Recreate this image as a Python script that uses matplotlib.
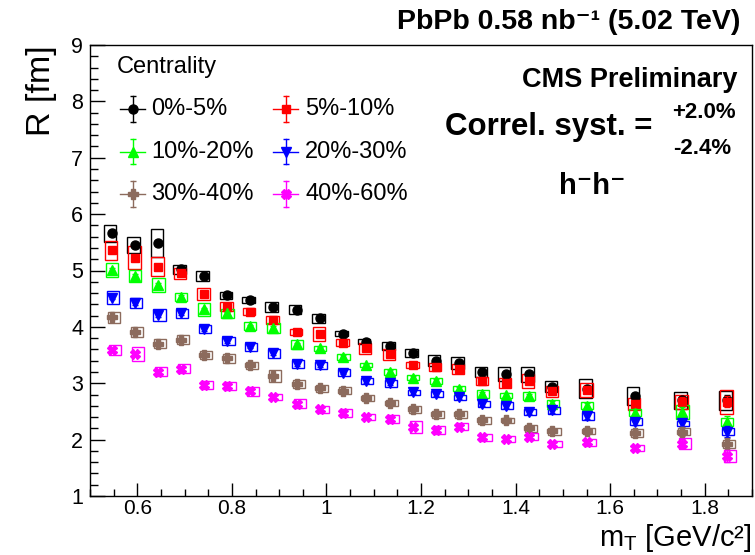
import numpy as np
import matplotlib
matplotlib.use("Agg")
import matplotlib.pyplot as plt
from matplotlib.patches import Rectangle

plt.rcParams['font.family'] = ['Liberation Sans', 'DejaVu Sans']
plt.rcParams['mathtext.fontset'] = 'custom'
plt.rcParams['mathtext.rm'] = 'Liberation Sans'
plt.rcParams['mathtext.it'] = 'Liberation Sans:italic'
plt.rcParams['mathtext.bf'] = 'Liberation Sans:bold'

# ---------------- data ----------------
mt = [0.546, 0.595, 0.644, 0.692, 0.741, 0.790, 0.838, 0.887, 0.937, 0.986,
      1.035, 1.083, 1.134, 1.183, 1.231, 1.280, 1.330, 1.379, 1.428, 1.478,
      1.551, 1.652, 1.752, 1.847]

R_0_5 = [5.66, 5.45, 5.49, 5.02, 4.90, 4.56, 4.48, 4.36, 4.30, 4.15, 3.88, 3.74,
         3.66, 3.53, 3.40, 3.36, 3.20, 3.16, 3.16, 2.94, 2.90, 2.77, 2.70, 2.70]
R_5_10 = [5.36, 5.23, 5.07, 4.95, 4.58, 4.36, 4.27, 4.12, 3.91, 3.87, 3.72, 3.62,
          3.51, 3.33, 3.29, 3.26, 3.04, 3.01, 3.04, 2.86, 2.88, 2.63, 2.67, 2.67]
R_10_20 = [5.01, 4.90, 4.74, 4.53, 4.31, 4.24, 4.01, 3.98, 3.69, 3.62, 3.47, 3.32,
           3.20, 3.10, 3.04, 2.90, 2.81, 2.79, 2.77, 2.64, 2.60, 2.48, 2.49, 2.32]
R_20_30 = [4.52, 4.42, 4.21, 4.24, 3.96, 3.75, 3.65, 3.53, 3.34, 3.32, 3.19, 3.04,
           3.00, 2.84, 2.81, 2.75, 2.63, 2.60, 2.49, 2.52, 2.42, 2.32, 2.29, 2.14]
R_30_40 = [4.17, 3.91, 3.70, 3.77, 3.50, 3.44, 3.32, 3.13, 2.99, 2.91, 2.87, 2.74,
           2.65, 2.54, 2.45, 2.45, 2.34, 2.34, 2.20, 2.15, 2.15, 2.11, 2.14, 1.92]
R_40_60 = [3.59, 3.52, 3.20, 3.26, 2.97, 2.95, 2.86, 2.76, 2.64, 2.54, 2.47, 2.40,
           2.37, 2.22, 2.17, 2.23, 2.04, 2.01, 2.05, 1.92, 1.95, 1.85, 1.93, 1.71]

# systematic (box half-heights)
syst_0_5 = [0.15, 0.14, 0.25, 0.08, 0.09, 0.06, 0.05, 0.09, 0.08, 0.08, 0.05, 0.05,
            0.065, 0.07, 0.10, 0.11, 0.09, 0.12, 0.13, 0.10, 0.17, 0.16, 0.15, 0.17]
syst_5_10 = [0.17, 0.20, 0.17, 0.095, 0.11, 0.075, 0.06, 0.075, 0.06, 0.12, 0.06, 0.10,
             0.09, 0.055, 0.075, 0.09, 0.07, 0.09, 0.13, 0.10, 0.12, 0.10, 0.13, 0.21]
syst_10_20 = [0.12, 0.10, 0.12, 0.075, 0.11, 0.08, 0.07, 0.09, 0.075, 0.045, 0.055, 0.04,
              0.05, 0.045, 0.045, 0.045, 0.075, 0.045, 0.075, 0.065, 0.06, 0.06, 0.125, 0.07]
syst_20_30 = [0.11, 0.09, 0.10, 0.08, 0.065, 0.075, 0.07, 0.08, 0.07, 0.065, 0.055, 0.06,
              0.065, 0.045, 0.06, 0.05, 0.055, 0.065, 0.06, 0.06, 0.07, 0.06, 0.045, 0.06]
syst_30_40 = [0.095, 0.095, 0.08, 0.08, 0.07, 0.08, 0.06, 0.11, 0.07, 0.06, 0.065, 0.06,
              0.06, 0.06, 0.06, 0.06, 0.06, 0.05, 0.06, 0.065, 0.05, 0.07, 0.06, 0.075]
syst_40_60 = [0.095, 0.12, 0.08, 0.075, 0.07, 0.065, 0.08, 0.055, 0.075, 0.06, 0.065, 0.06,
              0.075, 0.11, 0.065, 0.06, 0.06, 0.06, 0.06, 0.055, 0.055, 0.06, 0.095, 0.10]

# statistical errors (small, mostly hidden by markers)
stat_err = [0.03, 0.03, 0.03, 0.03, 0.03, 0.03, 0.03, 0.03, 0.03, 0.03, 0.03, 0.03,
            0.03, 0.03, 0.03, 0.03, 0.04, 0.04, 0.04, 0.04, 0.05, 0.06, 0.08, 0.10]

labels = ["0%-5%", "5%-10%", "10%-20%", "20%-30%", "30%-40%", "40%-60%"]
series = [R_0_5, R_5_10, R_10_20, R_20_30, R_30_40, R_40_60]
systs = [syst_0_5, syst_5_10, syst_10_20, syst_20_30, syst_30_40, syst_40_60]
colors = ['#000000', '#ff0000', '#00ff00', '#0000ff', '#8c6b5d', '#ff00ff']
markers = ['o', 's', '^', 'v', 'P', 'X']
msizes = [6.5, 6.0, 7.0, 7.0, 7.0, 6.5]

# ---------------- figure ----------------
fig = plt.figure(figsize=(7.55, 5.55), dpi=100)
ax = fig.add_axes([90/755, 59/555, 662/755, 451/555])

box_w = 0.026
for k, (y, s, c, m, ms) in enumerate(zip(series, systs, colors, markers, msizes)):
    x = np.array(mt)
    y = np.array(y)
    s = np.array(s)
    for xi, yi, si in zip(x, y, s):
        xc = xi - 0.003 + 0.0019 * k
        ax.add_patch(Rectangle((xc - box_w/2, yi - si), box_w, 2*si,
                               facecolor='none', edgecolor=c, lw=1.0, zorder=2+k))
    ax.errorbar(x, y, yerr=stat_err, fmt=m, color=c, ms=ms, mec=c, mfc=c,
                elinewidth=1.0, capsize=2, capthick=1.0, zorder=3+k)

ax.set_xlim(0.5, 1.9)
ax.set_ylim(1, 9)
ax.set_xticks([0.6, 0.8, 1.0, 1.2, 1.4, 1.6, 1.8])
ax.set_xticklabels(["0.6", "0.8", "1", "1.2", "1.4", "1.6", "1.8"])
ax.set_yticks(range(1, 10))
ax.set_xticks(np.arange(0.5, 1.901, 0.05), minor=True)
ax.set_yticks(np.arange(1, 9.01, 0.2), minor=True)
ax.tick_params(axis='both', which='both', direction='in', top=False, right=False,
               labelsize=15.5, width=1.0)
ax.tick_params(axis='x', labelsize=15)
ax.tick_params(axis='y', which='major', length=11, pad=5)
ax.tick_params(axis='y', which='minor', length=5.5)
ax.tick_params(axis='x', which='major', length=9.5, pad=2)
ax.tick_params(axis='x', which='minor', length=5)
for sp in ax.spines.values():
    sp.set_linewidth(1.0)

ax.set_ylabel("R [fm]", fontsize=24.5, loc='top', labelpad=10)
fig.text(752/755, 1/555, "m$_{\\mathrm{T}}$ [GeV/c\u00b2]", fontsize=21,
         ha='right', va='bottom')

# ---------------- legend (manual, ROOT style) ----------------
def fx(px):
    return (px - 90) / 662

def fy(py):
    return (496 - py) / 451

ax.text(fx(117), fy(67), "Centrality", transform=ax.transAxes, fontsize=17,
        va='center', ha='left')
rows = [109, 151.5, 193.5]
cols = [(120, 145, 132.5, 151), (273, 298, 285.7, 305)]
dy = 13 / 451
for k in range(6):
    r, cidx = divmod(k, 2)
    x0, x1, xm, xt = cols[cidx]
    yy = fy(rows[r])
    c = colors[k]
    ax.plot([fx(x0), fx(x1)], [yy, yy], color=c, lw=1.0, transform=ax.transAxes,
            clip_on=False)
    ax.plot([fx(xm), fx(xm)], [yy - dy, yy + dy], color=c, lw=1.0, marker='_',
            ms=5, mew=1.0, transform=ax.transAxes, clip_on=False)
    ax.plot([fx(xm)], [yy], marker=markers[k], color=c, ms=msizes[k],
            transform=ax.transAxes, clip_on=False, linestyle='none')
    ax.text(fx(xt), yy, labels[k], transform=ax.transAxes, fontsize=17,
            va='center', ha='left')

# ---------------- texts ----------------
ax.text(fx(738), fy(80), "CMS Preliminary", transform=ax.transAxes, fontsize=19.5,
        fontweight='bold', ha='right', va='center')
ax.text(fx(445), fy(127), "Correl. syst. =", transform=ax.transAxes, fontsize=22.5,
        fontweight='bold', ha='left', va='center')
ax.text(fx(704), fy(113), "+2.0%", transform=ax.transAxes, fontsize=16,
        fontweight='bold', ha='center', va='center')
ax.text(fx(702), fy(148), "-2.4%", transform=ax.transAxes, fontsize=16,
        fontweight='bold', ha='center', va='center')
ax.text(fx(592), fy(186), "h\u207bh\u207b", transform=ax.transAxes,
        fontsize=21, fontweight='bold', ha='center', va='center',
        family=['Liberation Sans', 'DejaVu Sans'])

fig.text(740/755, 1 - 22/555, "PbPb 0.58 nb\u207b\u00b9 (5.02 TeV)", fontsize=20.5,
         fontweight='bold', ha='right', va='center',
         family=['Liberation Sans', 'DejaVu Sans'])

fig.savefig("out.png", dpi=100)
